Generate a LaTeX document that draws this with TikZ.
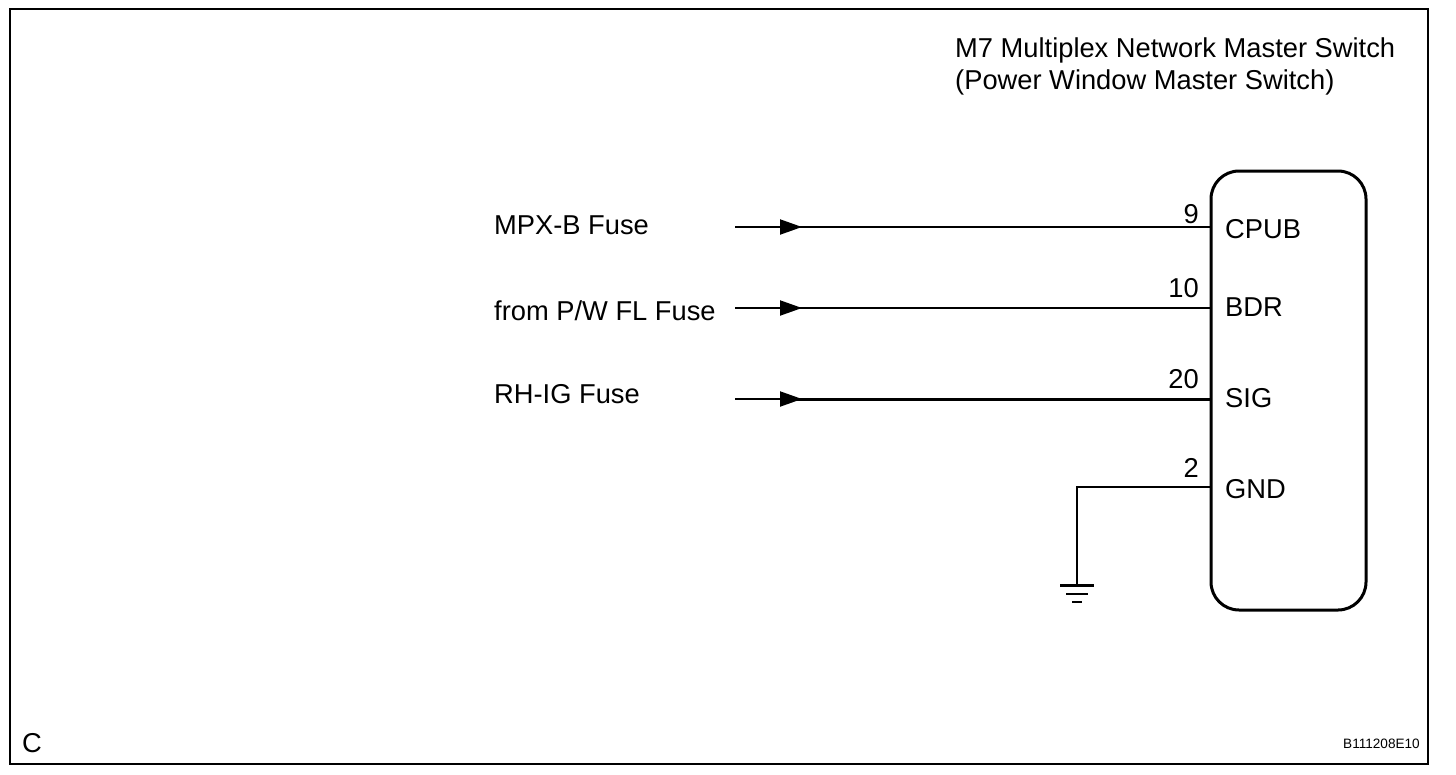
\documentclass[tikz,border=0pt]{standalone}
\usepackage{fontspec}
\setmainfont{Liberation Sans}
\usetikzlibrary{arrows.meta,decorations.markings}
\tikzset{
    label/.style={
        inner sep=0,
        anchor=base west,
        font=\fontsize{27.3}{32}\selectfont
    },
    pinnum/.style={
        inner sep=0,
        anchor=base east,
        font=\fontsize{27.3}{32}\selectfont
    },
    switchbox/.style={
        draw,
        line width=3pt,
        rounded corners=28pt,
        minimum width=155pt,
        minimum height=439pt,
        inner sep=0
    },
    wire/.style={
        line width=2pt,
        decoration={
            markings,
            mark=at position 67pt with {\arrow{Triangle[length=22pt,width=15pt]}}
        },
        postaction={decorate}
    }
}
\begin{document}
\begin{tikzpicture}[x=1pt,y=-1pt]
    \useasboundingbox (0,0) rectangle (1456,774);
    % frame
    \node[draw,line width=2pt,minimum width=1418pt,minimum height=755pt,inner sep=0] (frame) at (719,386.5) {};
    % title
    \node[label] (title1) at (955,57) {M7 Multiplex Network Master Switch};
    \node[label] (title2) at (955,89) {(Power Window Master Switch)};
    % switch
    \node[switchbox] (switch) at (1288.5,390.5) {};
    % wire ends
    \coordinate (cpubin) at (735,227);
    \coordinate (bdrin) at (735,308);
    \coordinate (sigin) at (735,399);
    \coordinate (sigmid) at (790,399);
    \coordinate (gndturn) at (1077,487);
    \coordinate (gndend) at (1077,585);
    % fuses
    \node[label] (mpxfuse) at (494,234) {MPX-B Fuse};
    \node[label] (fromfuse) at (494,320) {from P/W FL Fuse};
    \node[label] (rhfuse) at (494,403) {RH-IG Fuse};
    % terminals
    \node[label] (cpub) at (1225,238) {CPUB};
    \node[label] (bdr) at (1225,316) {BDR};
    \node[label] (sig) at (1225,407) {SIG};
    \node[label] (gnd) at (1225,498) {GND};
    % pin numbers
    \node[pinnum] (pin9) at (1199,223) {9};
    \node[pinnum] (pin10) at (1199,297) {10};
    \node[pinnum] (pin20) at (1199,388) {20};
    \node[pinnum] (pin2) at (1199,477) {2};
    % wires
    \draw[wire] (cpubin) -- (cpubin -| switch.west);
    \draw[wire] (bdrin) -- (bdrin -| switch.west);
    \draw[wire] (sigin) -- (sigin -| switch.west);
    \draw[line width=3pt] (sigmid) -- (sigmid -| switch.west);
    \draw[line width=2pt] (switch.west |- gndturn) -- (gndturn) -- (gndend);
    % ground
    \coordinate (gnd2) at (1077,594);
    \coordinate (gnd3) at (1077,602);
    \draw[line width=3pt] ([xshift=-17pt]gndend) -- ([xshift=17pt]gndend);
    \draw[line width=2pt] ([xshift=-11pt]gnd2) -- ([xshift=11pt]gnd2);
    \draw[line width=2pt] ([xshift=-5pt]gnd3) -- ([xshift=5pt]gnd3);
    % corner marks
    \node[label] (corner) at (22,752) {C};
    \node[inner sep=0,anchor=base east,font=\fontsize{13.6}{15}\selectfont] (code) at (1420,748) {B111208E10};
\end{tikzpicture}
\end{document}
